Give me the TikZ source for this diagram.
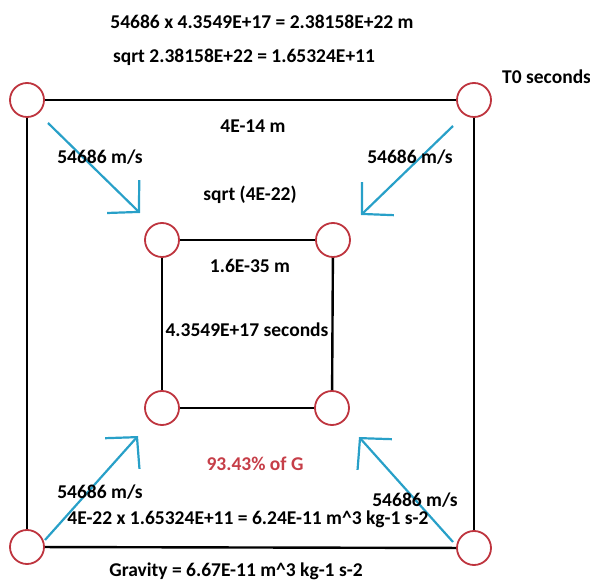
\documentclass[tikz,border=0pt]{standalone}
\usepackage{fontspec}
\setmainfont{Carlito}
\usetikzlibrary{arrows.meta}
\definecolor{ringred}{RGB}{190,52,62}
\definecolor{txtred}{RGB}{198,62,72}
\definecolor{arrowblue}{RGB}{40,160,200}
\tikzset{
  ring/.style={circle,draw=ringred,line width=1.8pt,minimum size=34pt,inner sep=0pt},
  edge/.style={draw=black,line width=2.4pt},
  flow/.style={draw=arrowblue,line width=2.2pt,-{Straight Barb[length=22pt,width=46pt,line width=2.2pt]}},
  lbl/.style={font=\bfseries\fontsize{19.5}{21}\selectfont,inner sep=0pt}
}
\begin{document}
\begin{tikzpicture}[x=1pt,y=-1pt]
\useasboundingbox (0,0) rectangle (590,585);
% outer rings
\node[ring] (o1) at (27,100) {};
\node[ring] (o2) at (474,100) {};
\node[ring] (o3) at (27,547) {};
\node[ring] (o4) at (474,548) {};
% inner rings
\node[ring] (i1) at (162,240) {};
\node[ring] (i2) at (333,240) {};
\node[ring] (i3) at (162,408) {};
\node[ring] (i4) at (332,408) {};
% outer square
\draw[edge] (o1) -- (o2);
\draw[edge] (o1) -- (o3);
\draw[edge] (o2) -- (o4);
\draw[edge] (o3) -- (o4);
% inner square
\draw[edge] (i1) -- (i2);
\draw[edge] (i1) -- (i3);
\draw[edge] (i2) -- (i4);
\draw[edge] (i3) -- (i4);
% arrows
\coordinate (a1s) at (48,123);  \coordinate (a1e) at (140,213);
\coordinate (a2s) at (453,126); \coordinate (a2e) at (361,215);
\coordinate (a3s) at (45,540);  \coordinate (a3e) at (138,436);
\coordinate (a4s) at (453,542); \coordinate (a4e) at (359,437);
\draw[flow] (a1s) -- (a1e);
\draw[flow] (a2s) -- (a2e);
\draw[flow] (a3s) -- (a3e);
\draw[flow] (a4s) -- (a4e);
% labels
\node[lbl] (t1) at (262,22) {54686 x 4.3549E+17 = 2.38158E+22 m};
\node[lbl] (t2) at (244,57) {sqrt 2.38158E+22 = 1.65324E+11};
\node[lbl,anchor=west] (t3) at (502,77) {T0 seconds};
\node[lbl] (t4) at (253,126) {4E-14 m};
\node[lbl] (v1) at (100,157) {54686 m/s};
\node[lbl] (v2) at (410,157) {54686 m/s};
\node[lbl] (t5) at (250,195) {sqrt (4E-22)};
\node[lbl] (t6) at (250,266) {1.6E-35 m};
\node[lbl] (t7) at (247,330) {4.3549E+17 seconds};
\node[lbl,text=txtred] (t8) at (255,464) {93.43\% of G};
\node[lbl] (v3) at (100,492) {54686 m/s};
\node[lbl] (v4) at (415,500) {54686 m/s};
\node[lbl] (t9) at (248,519) {4E-22 x 1.65324E+11 = 6.24E-11 m\textasciicircum 3 kg-1 s-2};
\node[lbl] (t10) at (236,571) {Gravity = 6.67E-11 m\textasciicircum 3 kg-1 s-2};
\end{tikzpicture}
\end{document}
